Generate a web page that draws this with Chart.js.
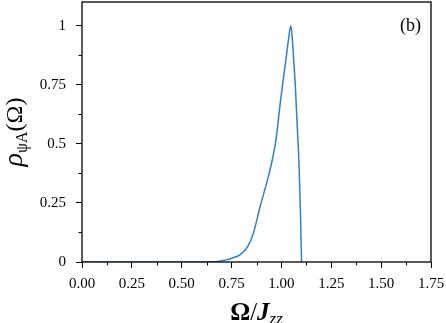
<!DOCTYPE html>
<html>
<head>
<meta charset="utf-8">
<script src="https://cdn.jsdelivr.net/npm/chart.js@4/dist/chart.umd.min.js"></script>
<style>
html,body{margin:0;padding:0;background:#fff;}
#wrap{width:446px;height:323px;position:relative;}
</style>
</head>
<body>
<div id="wrap"><canvas id="c" width="446" height="323"></canvas></div>
<script>
const omega = [0, 0.60, 0.68, 0.717, 0.751, 0.792, 0.831, 0.859, 0.893, 0.934, 0.956, 0.973, 0.996, 1.020, 1.035, 1.047, 1.055, 1.062, 1.070, 1.080, 1.088, 1.095, 1.101];
const rho   = [0, 0, 0.002, 0.008, 0.016, 0.030, 0.065, 0.121, 0.234, 0.360, 0.440, 0.520, 0.686, 0.840, 0.939, 1.000, 0.940, 0.850, 0.740, 0.560, 0.420, 0.220, 0];
const xTicks = [0, 0.125, 0.25, 0.375, 0.5, 0.625, 0.75, 0.875, 1.0, 1.125, 1.25, 1.375, 1.5, 1.625, 1.75];
const xLabels = ["0.00", "", "0.25", "", "0.50", "", "0.75", "", "1.00", "", "1.25", "", "1.50", "", "1.75"];
const yTicks = [0, 0.125, 0.25, 0.375, 0.5, 0.625, 0.75, 0.875, 1.0];
const yLabels = ["0", "", "0.25", "", "0.5", "", "0.75", "", "1"];
const panelLabel = "(b)";

const points = omega.map((x, i) => ({x: x, y: rho[i]}));
const MINOR = 3.5;

const decor = {
  id: 'decor',
  afterDraw(chart) {
    const ctx = chart.ctx, a = chart.chartArea;
    const xs = chart.scales.x, ys = chart.scales.y;
    ctx.save();
    ctx.strokeStyle = '#000';
    ctx.lineWidth = 1;
    ctx.beginPath();
    xTicks.forEach((v, i) => {
      if (xLabels[i] === '') {
        const px = Math.round(xs.getPixelForValue(v)) + 0.5;
        ctx.moveTo(px, a.bottom); ctx.lineTo(px, a.bottom + MINOR);
      }
    });
    yTicks.forEach((v, i) => {
      if (yLabels[i] === '') {
        const py = Math.round(ys.getPixelForValue(v)) + 0.5;
        ctx.moveTo(a.left, py); ctx.lineTo(a.left - MINOR, py);
      }
    });
    ctx.stroke();
    ctx.lineWidth = 1.3;
    ctx.strokeRect(a.left, a.top, a.right - a.left, a.bottom - a.top);
    ctx.fillStyle = '#000';
    ctx.font = '18px "Liberation Serif", "DejaVu Serif", serif';
    ctx.textAlign = 'right';
    ctx.textBaseline = 'middle';
    ctx.fillText(panelLabel, a.right - 10, a.top + 24);
    const parts = [
      {t: 'Ω', f: 'bold 25px "Liberation Serif", serif', dy: 0},
      {t: '/', f: '25px "Liberation Serif", serif', dy: 0},
      {t: 'J', f: 'bold italic 25px "Liberation Serif", serif', dy: 0},
      {t: 'zz', f: 'italic 17px "Liberation Serif", serif', dy: 4}
    ];
    let w = 0;
    parts.forEach(p => { ctx.font = p.f; p.w = ctx.measureText(p.t).width; w += p.w; });
    let x = (a.left + a.right) / 2 - w / 2;
    ctx.textAlign = 'left';
    ctx.textBaseline = 'alphabetic';
    parts.forEach(p => { ctx.font = p.f; ctx.fillText(p.t, x, 320 + p.dy); x += p.w; });
    const yparts = [
      {t: 'ρ', f: 'italic 28px "Liberation Serif", serif', dy: 0},
      {t: 'ψA', f: '16px "Liberation Serif", serif', dy: 5},
      {t: '(Ω)', f: '24px "Liberation Serif", serif', dy: 0}
    ];
    w = 0;
    yparts.forEach(p => { ctx.font = p.f; p.w = ctx.measureText(p.t).width; w += p.w; });
    ctx.translate(22, (a.top + a.bottom) / 2);
    ctx.rotate(-Math.PI / 2);
    x = -w / 2;
    yparts.forEach(p => { ctx.font = p.f; ctx.fillText(p.t, x, p.dy); x += p.w; });
    ctx.restore();
  }
};

const tickCol = (labels) => (c) => (labels[c.index] === '' ? 'rgba(0,0,0,0)' : '#000');

new Chart(document.getElementById('c'), {
  type: 'line',
  data: {
    datasets: [{
      data: points,
      borderColor: '#3580c4',
      borderWidth: 1.5,
      pointRadius: 0,
      fill: false,
      cubicInterpolationMode: 'monotone'
    }]
  },
  options: {
    responsive: false,
    animation: false,
    devicePixelRatio: 1,
    layout: {padding: {top: 2, right: 15, left: 0, bottom: 0}},
    plugins: {legend: {display: false}, tooltip: {enabled: false}},
    scales: {
      x: {
        type: 'linear',
        min: 0, max: 1.75,
        afterBuildTicks: s => { s.ticks = xTicks.map(v => ({value: v})); },
        afterFit: s => { s.height = 61; s.paddingLeft = 0; s.paddingRight = 0; },
        ticks: {
          autoSkip: false, maxRotation: 0, padding: 7,
          color: '#000',
          font: {family: '"Liberation Serif", serif', size: 15},
          callback: (v, i) => xLabels[i]
        },
        grid: {drawOnChartArea: false, drawTicks: true, tickLength: 6, tickColor: tickCol(xLabels), tickWidth: 1},
        border: {display: false}
      },
      y: {
        type: 'linear',
        min: 0, max: 1.1,
        afterBuildTicks: s => { s.ticks = yTicks.map(v => ({value: v})); },
        afterFit: s => { s.width = 82; s.paddingTop = 0; s.paddingBottom = 0; },
        ticks: {
          autoSkip: false, padding: 10,
          color: '#000',
          font: {family: '"Liberation Serif", serif', size: 15},
          callback: (v, i) => yLabels[i]
        },
        grid: {drawOnChartArea: false, drawTicks: true, tickLength: 6, tickColor: tickCol(yLabels), tickWidth: 1},
        border: {display: false}
      }
    }
  },
  plugins: [decor]
});
</script>
</body>
</html>
